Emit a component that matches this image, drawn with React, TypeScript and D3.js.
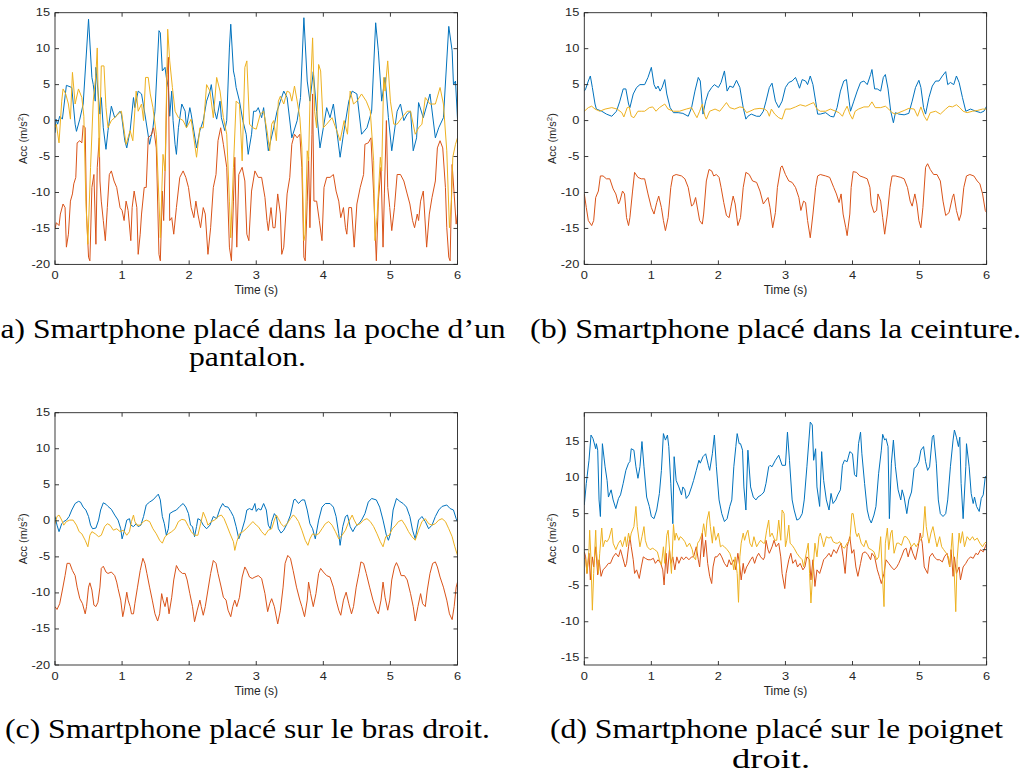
import React from "react";
import * as d3 from "d3";

type Pt = [number, number];

// ---- tick values ----
const timeTicks = [0, 1, 2, 3, 4, 5, 6];
const accTicks = [-20, -15, -10, -5, 0, 5, 10, 15];
const wristAccTicks = [-15, -10, -5, 0, 5, 10, 15];

// ---- (a) pocket ----
const pocketAccX: Pt[] = [[0,-1.7],[0.015,0.2],[0.04,-0.5],[0.07,0.6],[0.11,0.2],[0.17,4.9],[0.25,4.6],[0.30,-0.5],[0.32,-1.5],[0.37,0.2],[0.42,2.3],[0.50,14.1],[0.55,6.0],[0.57,5.0],[0.60,2.7],[0.61,7.4],[0.67,0.9],[0.69,3.2],[0.72,-1.0],[0.76,-4.0],[0.79,-1.4],[0.84,2.0],[0.89,0.4],[0.97,1.3],[0.99,0.9],[1.04,-2.8],[1.07,-3.8],[1.12,-1.4],[1.17,3.2],[1.19,1.8],[1.24,4.1],[1.29,3.7],[1.34,0.9],[1.41,-3.3],[1.46,-1.0],[1.49,1.3],[1.55,12.5],[1.57,12.2],[1.60,6.9],[1.64,7.4],[1.66,6.0],[1.69,4.6],[1.71,0.6],[1.74,4.1],[1.76,0],[1.79,-3.3],[1.81,-4.7],[1.84,-1.0],[1.89,2.3],[1.94,1.3],[1.96,-1.0],[2.01,1.8],[2.03,0.9],[2.11,-3.8],[2.16,-1.4],[2.21,0],[2.26,2.7],[2.31,4.1],[2.33,5.0],[2.38,1.3],[2.41,0.2],[2.46,2.7],[2.48,0.4],[2.53,-1.4],[2.56,0],[2.60,10.1],[2.62,13.4],[2.66,6.9],[2.68,6.0],[2.70,4.6],[2.75,2.7],[2.80,0],[2.85,-1.9],[2.88,-4.7],[2.93,-1.9],[2.96,1.3],[3.0,1.3],[3.03,1.8],[3.08,0.4],[3.11,1.8],[3.18,-4.2],[3.26,-1.0],[3.31,1.3],[3.36,2.7],[3.41,4.1],[3.46,3.2],[3.53,-2.4],[3.61,0],[3.66,3.2],[3.71,14.3],[3.76,5.5],[3.80,2.7],[3.85,6.8],[3.90,1.3],[3.95,-3.8],[4.0,-1.0],[4.05,1.8],[4.10,0.4],[4.15,2.3],[4.25,-5.1],[4.30,-1.9],[4.38,2.7],[4.43,4.1],[4.50,3.7],[4.57,-1.9],[4.65,-1.0],[4.72,1.3],[4.78,13.6],[4.82,9.7],[4.87,2.7],[4.92,6.0],[4.97,0.4],[5.02,-4.2],[5.10,1.3],[5.15,2.3],[5.20,0],[5.25,0.9],[5.30,1.3],[5.34,-4.2],[5.39,-2.4],[5.42,2.5],[5.49,0.4],[5.59,3.7],[5.67,-2.4],[5.72,-1.0],[5.79,0.4],[5.87,13.1],[5.92,9.7],[5.94,5.0],[5.97,5.5],[6.0,0.2]];
const pocketAccY: Pt[] = [[0,-15.1],[0.02,-14.2],[0.06,-14.6],[0.08,-13.0],[0.12,-11.6],[0.15,-12.1],[0.17,-17.6],[0.20,-15.8],[0.23,-11.2],[0.26,-10.2],[0.28,-8.8],[0.31,-7.9],[0.33,-3.1],[0.37,-2.8],[0.40,-3.1],[0.42,-0.7],[0.45,-1.0],[0.47,-13.0],[0.50,-19.0],[0.52,-19.5],[0.55,-9.3],[0.58,-7.5],[0.61,-17.2],[0.63,-6.5],[0.66,-2.4],[0.67,-8.4],[0.69,-11.2],[0.72,-13.9],[0.75,-16.7],[0.78,-12.1],[0.81,-7.5],[0.84,-7.0],[0.88,-8.4],[0.92,-9.3],[0.97,-12.1],[1.00,-12.5],[1.03,-13.9],[1.06,-11.2],[1.09,-12.5],[1.13,-16.7],[1.15,-12.1],[1.18,-9.8],[1.22,-12.1],[1.24,-18.6],[1.27,-15.8],[1.29,-13.0],[1.33,-9.3],[1.36,-9.3],[1.39,-2.4],[1.44,-1.9],[1.47,-1.0],[1.51,-3.8],[1.55,-18.6],[1.57,-19.5],[1.60,-9.8],[1.62,-13.9],[1.65,-3.8],[1.67,6.4],[1.69,8.8],[1.71,-13.9],[1.74,-13.5],[1.77,-15.8],[1.81,-12.1],[1.86,-7.9],[1.91,-7.0],[1.95,-7.9],[1.99,-9.3],[2.03,-12.1],[2.07,-13.5],[2.10,-11.2],[2.13,-13.0],[2.17,-14.9],[2.21,-12.1],[2.24,-13.0],[2.28,-18.6],[2.32,-14.9],[2.36,-9.3],[2.40,-7.5],[2.43,-2.8],[2.47,-1.0],[2.51,-3.3],[2.56,-6.5],[2.60,-17.6],[2.63,-19.5],[2.66,-11.2],[2.68,-5.1],[2.71,-17.6],[2.74,-7.5],[2.79,-6.5],[2.83,-8.4],[2.86,-15.8],[2.89,-16.7],[2.93,-9.8],[2.98,-7.0],[3.03,-7.9],[3.08,-7.9],[3.13,-10.7],[3.16,-13.9],[3.18,-15.3],[3.22,-12.1],[3.25,-14.9],[3.28,-14.9],[3.32,-10.2],[3.36,-13.0],[3.38,-18.6],[3.41,-17.6],[3.46,-10.2],[3.50,-7.9],[3.53,-3.3],[3.57,-1.9],[3.61,-2.4],[3.65,-1.9],[3.68,-6.5],[3.71,-19.0],[3.73,-19.5],[3.76,-11.2],[3.78,-5.1],[3.80,-14.9],[3.83,-1.9],[3.84,3.7],[3.86,-11.2],[3.90,-11.2],[3.94,-13.9],[3.98,-16.7],[4.01,-9.3],[4.05,-7.9],[4.10,-7.9],[4.15,-7.5],[4.19,-9.8],[4.23,-11.2],[4.26,-13.5],[4.30,-12.1],[4.33,-14.9],[4.35,-15.8],[4.38,-12.1],[4.42,-12.1],[4.46,-17.6],[4.50,-11.6],[4.55,-9.3],[4.60,-7.5],[4.62,-3.3],[4.67,-3.1],[4.71,-2.4],[4.75,-10.2],[4.79,-19.5],[4.82,-11.2],[4.86,-6.5],[4.89,-17.6],[4.91,-10.2],[4.94,0],[4.96,-9.3],[4.99,-12.1],[5.02,-15.3],[5.06,-12.1],[5.10,-7.5],[5.15,-7.5],[5.20,-8.4],[5.25,-10.2],[5.29,-11.6],[5.33,-13.9],[5.36,-14.9],[5.40,-13.0],[5.42,-13.9],[5.45,-11.2],[5.49,-9.8],[5.54,-17.6],[5.58,-13.0],[5.62,-10.7],[5.67,-8.4],[5.70,-3.8],[5.74,-2.8],[5.78,-3.8],[5.82,-9.3],[5.84,-14.9],[5.87,-19.0],[5.89,-19.5],[5.92,-6.1],[5.95,-10.2],[5.98,-14.4],[6.0,-13.0]];
const pocketAccZ: Pt[] = [[0,-1.0],[0.02,-0.5],[0.06,-3.1],[0.10,2.7],[0.12,4.4],[0.16,3.7],[0.20,2.3],[0.23,0.2],[0.26,6.7],[0.30,2.3],[0.35,4.4],[0.40,3.2],[0.43,0.6],[0.46,-11.2],[0.49,-17.2],[0.53,-6.5],[0.57,2.7],[0.61,6.4],[0.63,10.1],[0.66,-5.1],[0.69,7.6],[0.73,7.6],[0.76,1.8],[0.79,-1.0],[0.84,0],[0.89,0.4],[0.94,0.9],[0.99,1.3],[1.06,-3.3],[1.12,-1.4],[1.16,-2.8],[1.21,4.1],[1.24,1.3],[1.29,2.3],[1.32,0],[1.35,6.0],[1.39,6.0],[1.42,3.7],[1.46,1.8],[1.51,-1.9],[1.55,-11.2],[1.57,-16.3],[1.61,-4.7],[1.64,-7.0],[1.68,12.7],[1.71,8.3],[1.75,4.6],[1.79,1.3],[1.84,0.4],[1.91,0],[1.96,-1.0],[2.03,0.2],[2.11,-5.1],[2.16,-1.0],[2.21,-1.0],[2.26,5.0],[2.31,4.1],[2.36,0.4],[2.41,6.0],[2.46,4.1],[2.51,0.4],[2.56,-1.9],[2.60,-11.2],[2.62,-16.3],[2.66,-6.5],[2.70,2.7],[2.75,2.3],[2.79,-5.6],[2.83,7.4],[2.86,8.3],[2.90,-0.5],[2.95,-1.0],[3.0,-1.2],[3.06,0.9],[3.11,1.3],[3.16,-1.4],[3.20,-4.2],[3.23,-0.5],[3.26,0],[3.30,-2.8],[3.33,2.7],[3.36,3.4],[3.41,2.3],[3.46,4.1],[3.50,3.9],[3.53,2.7],[3.57,4.8],[3.61,2.7],[3.65,0.4],[3.68,-3.8],[3.71,-16.7],[3.73,-15.8],[3.76,-4.2],[3.78,-5.6],[3.80,2.3],[3.84,11.5],[3.87,1.3],[3.90,-1.0],[3.93,7.8],[3.96,6.9],[4.0,-1.0],[4.05,-0.5],[4.13,0.4],[4.20,-1.4],[4.25,-2.8],[4.31,0],[4.36,-1.9],[4.40,4.1],[4.45,2.3],[4.50,2.7],[4.57,3.7],[4.64,2.7],[4.70,1.3],[4.75,-5.6],[4.77,-16.7],[4.80,-13.5],[4.85,-5.1],[4.87,-7.0],[4.90,6.0],[4.92,4.1],[4.96,8.3],[5.0,2.7],[5.05,-0.5],[5.10,-0.5],[5.17,0.4],[5.25,1.3],[5.30,1.3],[5.37,-1.9],[5.42,-1.0],[5.47,-0.5],[5.52,3.2],[5.59,2.3],[5.67,2.3],[5.74,4.6],[5.79,2.3],[5.84,-4.2],[5.88,-14.9],[5.91,-11.2],[5.93,-5.1],[5.97,-3.3],[6.0,-2.4]];

// ---- (b) belt ----
const beltAccX: Pt[] = [[0,4.1],[0.02,4.4],[0.06,5.5],[0.09,6.2],[0.12,4.6],[0.16,2.3],[0.18,1.6],[0.26,1.3],[0.33,0.9],[0.41,0.6],[0.48,1.3],[0.53,2.7],[0.58,4.4],[0.62,4.4],[0.66,2.3],[0.68,1.8],[0.73,3.7],[0.78,4.6],[0.83,5.0],[0.90,5.0],[0.95,6.0],[1.0,7.4],[1.04,5.0],[1.07,4.4],[1.10,4.8],[1.13,4.1],[1.16,4.6],[1.20,5.7],[1.23,3.7],[1.28,1.8],[1.33,1.1],[1.40,1.1],[1.47,1.0],[1.55,0.6],[1.60,1.8],[1.65,4.1],[1.70,6.0],[1.73,5.5],[1.77,0.9],[1.81,2.7],[1.85,3.9],[1.90,4.6],[1.94,5.0],[2.0,4.6],[2.04,5.3],[2.09,6.9],[2.13,4.1],[2.17,4.8],[2.22,4.6],[2.27,5.6],[2.32,4.6],[2.37,1.8],[2.41,0.2],[2.44,0.6],[2.49,0.9],[2.57,0.6],[2.62,0.6],[2.67,1.3],[2.71,2.7],[2.76,4.6],[2.80,5.2],[2.85,2.7],[2.90,1.8],[2.95,2.7],[3.0,4.6],[3.05,5.3],[3.10,5.5],[3.15,6.0],[3.18,5.3],[3.21,4.5],[3.25,5.7],[3.30,5.5],[3.33,5.0],[3.37,6.2],[3.41,5.0],[3.45,2.7],[3.48,0.9],[3.52,0.9],[3.60,1.1],[3.67,0.6],[3.72,0.5],[3.77,1.8],[3.82,4.1],[3.87,5.5],[3.91,5.7],[3.95,2.7],[3.97,1.3],[4.02,2.7],[4.07,4.1],[4.12,5.3],[4.17,5.5],[4.22,5.0],[4.27,6.4],[4.29,7.1],[4.33,4.4],[4.37,4.4],[4.42,4.1],[4.46,6.0],[4.49,6.4],[4.53,4.4],[4.57,1.3],[4.61,-0.3],[4.64,1.1],[4.69,0.9],[4.77,0.8],[4.84,1.0],[4.89,2.7],[4.94,4.6],[4.99,5.6],[5.02,4.6],[5.06,1.8],[5.09,0.9],[5.14,3.2],[5.19,4.8],[5.24,5.5],[5.29,5.5],[5.34,6.2],[5.39,6.8],[5.42,5.0],[5.46,5.3],[5.51,5.0],[5.55,6.2],[5.59,5.3],[5.64,3.2],[5.69,1.3],[5.76,1.6],[5.84,1.3],[5.91,1.1],[5.96,1.3],[6.0,2.0]];
const beltAccY: Pt[] = [[0,-10.2],[0.03,-12.1],[0.06,-13.9],[0.11,-14.6],[0.14,-13.9],[0.17,-10.7],[0.21,-9.8],[0.24,-7.7],[0.28,-7.7],[0.33,-8.1],[0.38,-8.1],[0.43,-9.5],[0.47,-10.2],[0.51,-11.6],[0.53,-11.2],[0.57,-9.8],[0.60,-10.2],[0.63,-13.5],[0.66,-14.6],[0.68,-13.5],[0.72,-9.8],[0.75,-7.2],[0.80,-7.9],[0.85,-8.1],[0.90,-8.1],[0.95,-10.2],[1.0,-12.1],[1.04,-13.0],[1.08,-11.4],[1.11,-10.5],[1.15,-12.1],[1.18,-13.9],[1.21,-15.3],[1.25,-13.5],[1.29,-9.3],[1.32,-7.7],[1.37,-7.5],[1.45,-7.7],[1.50,-8.1],[1.55,-9.3],[1.60,-11.9],[1.63,-11.6],[1.66,-10.7],[1.69,-12.3],[1.72,-13.9],[1.76,-14.4],[1.78,-13.0],[1.82,-8.4],[1.86,-6.8],[1.90,-7.0],[1.93,-7.7],[1.97,-7.5],[2.01,-7.9],[2.04,-9.3],[2.08,-11.4],[2.12,-13.2],[2.16,-13.5],[2.19,-11.9],[2.22,-10.5],[2.25,-11.6],[2.29,-14.6],[2.33,-13.5],[2.37,-9.3],[2.41,-7.2],[2.46,-7.5],[2.51,-8.4],[2.57,-8.6],[2.62,-9.8],[2.67,-11.6],[2.70,-11.2],[2.74,-10.7],[2.77,-12.1],[2.81,-14.9],[2.85,-12.8],[2.88,-9.3],[2.93,-6.5],[2.95,-6.3],[3.0,-7.5],[3.05,-8.4],[3.10,-8.6],[3.15,-9.3],[3.20,-10.7],[3.23,-12.5],[3.27,-11.2],[3.30,-11.4],[3.33,-13.9],[3.37,-16.3],[3.41,-13.0],[3.45,-9.3],[3.48,-7.7],[3.52,-7.5],[3.60,-7.7],[3.66,-7.9],[3.72,-9.3],[3.76,-10.2],[3.80,-11.4],[3.83,-10.2],[3.86,-13.0],[3.90,-14.9],[3.92,-16.0],[3.96,-13.0],[3.98,-9.3],[4.01,-7.1],[4.06,-7.2],[4.11,-7.7],[4.17,-7.9],[4.22,-8.1],[4.26,-9.3],[4.28,-11.6],[4.32,-12.8],[4.36,-12.5],[4.38,-10.2],[4.42,-11.2],[4.45,-13.5],[4.48,-15.8],[4.52,-13.0],[4.56,-9.3],[4.59,-7.7],[4.64,-7.7],[4.72,-7.9],[4.77,-8.1],[4.82,-9.3],[4.86,-11.2],[4.89,-11.9],[4.93,-10.2],[4.96,-11.6],[4.99,-13.9],[5.02,-14.9],[5.05,-12.1],[5.09,-6.5],[5.12,-6.0],[5.16,-6.8],[5.21,-7.5],[5.26,-7.5],[5.31,-8.4],[5.35,-11.2],[5.39,-13.2],[5.44,-12.8],[5.49,-10.7],[5.51,-10.2],[5.55,-12.5],[5.59,-13.9],[5.62,-13.0],[5.66,-9.3],[5.70,-7.7],[5.75,-7.5],[5.81,-7.7],[5.86,-8.4],[5.90,-8.8],[5.94,-10.2],[5.98,-12.5],[6.0,-12.8]];
const beltAccZ: Pt[] = [[0,1.3],[0.06,1.8],[0.11,2.0],[0.16,1.6],[0.23,1.3],[0.31,1.6],[0.41,1.8],[0.49,1.6],[0.56,1.1],[0.59,0.5],[0.64,1.8],[0.67,1.9],[0.70,0.6],[0.74,0.4],[0.80,1.3],[0.85,1.3],[0.90,1.3],[0.97,1.8],[1.02,1.9],[1.07,1.3],[1.12,1.8],[1.20,2.3],[1.25,1.6],[1.33,1.3],[1.42,1.3],[1.52,1.6],[1.60,1.8],[1.65,0.9],[1.68,0.4],[1.72,1.3],[1.76,2.3],[1.80,0.6],[1.82,0.2],[1.87,1.3],[1.95,1.6],[2.02,1.3],[2.07,1.9],[2.12,2.5],[2.17,1.8],[2.24,1.6],[2.32,1.9],[2.37,1.8],[2.42,1.1],[2.47,1.3],[2.54,1.6],[2.62,1.7],[2.69,1.6],[2.73,1.3],[2.76,0.6],[2.79,1.6],[2.84,0.9],[2.90,0.4],[2.95,0.2],[3.0,1.6],[3.07,1.6],[3.15,1.9],[3.22,2.2],[3.30,2.0],[3.37,2.3],[3.42,2.5],[3.47,1.6],[3.52,1.3],[3.60,1.3],[3.67,1.6],[3.75,1.3],[3.80,1.1],[3.85,0.6],[3.88,1.3],[3.92,2.0],[3.96,0.9],[4.0,0.2],[4.04,1.3],[4.09,1.6],[4.17,1.9],[4.24,1.9],[4.29,2.6],[4.34,1.8],[4.42,1.8],[4.49,2.0],[4.54,1.6],[4.59,1.1],[4.64,0.9],[4.69,1.1],[4.77,1.4],[4.84,1.7],[4.92,1.6],[4.97,0.6],[5.02,1.9],[5.07,0.6],[5.11,0],[5.16,1.1],[5.24,1.3],[5.31,0.9],[5.39,1.6],[5.44,2.0],[5.49,1.9],[5.55,2.2],[5.60,1.8],[5.65,1.3],[5.71,1.1],[5.79,1.3],[5.86,1.4],[5.94,1.6],[6.0,1.6]];

// ---- (c) arm ----
const armAccX: Pt[] = [[0,0.6],[0.03,-0.6],[0.06,-1.5],[0.10,-0.4],[0.13,-0.1],[0.17,0.1],[0.21,0.6],[0.25,1.5],[0.30,2.4],[0.35,2.7],[0.38,2.6],[0.42,1.9],[0.46,1.5],[0.50,0.6],[0.53,-0.6],[0.56,-1.1],[0.61,-1.0],[0.65,0.1],[0.68,1.5],[0.72,2.5],[0.76,2.3],[0.79,2.0],[0.84,1.6],[0.89,0.8],[0.94,0.1],[0.98,-1.1],[1.0,-2.5],[1.03,-1.5],[1.07,0.1],[1.11,0.3],[1.13,-0.6],[1.17,-0.8],[1.21,-0.4],[1.24,-0.8],[1.28,-0.6],[1.32,0.6],[1.36,2.2],[1.41,2.6],[1.46,2.9],[1.50,3.3],[1.54,3.7],[1.57,2.9],[1.60,0.6],[1.63,-0.4],[1.66,-2.0],[1.69,-1.1],[1.71,1.0],[1.76,1.3],[1.81,1.5],[1.86,2.0],[1.91,2.4],[1.95,1.9],[1.99,1.0],[2.02,-0.6],[2.05,-0.8],[2.08,-2.2],[2.11,-0.8],[2.13,0.3],[2.17,0.1],[2.21,-0.6],[2.26,-1.1],[2.31,-0.6],[2.36,0.6],[2.41,0.3],[2.46,1.7],[2.50,2.4],[2.53,2.0],[2.58,1.9],[2.62,1.3],[2.66,0.6],[2.70,-0.8],[2.74,-2.5],[2.78,-1.5],[2.83,0.1],[2.86,1.5],[2.90,1.7],[2.94,1.5],[2.98,2.4],[3.0,1.3],[3.03,1.7],[3.07,1.5],[3.11,2.4],[3.15,1.5],[3.18,-0.6],[3.21,-1.1],[3.23,-0.1],[3.27,1.0],[3.30,0.6],[3.33,-1.1],[3.37,-1.7],[3.41,-1.3],[3.46,-0.4],[3.51,0.8],[3.56,2.9],[3.58,3.0],[3.63,2.4],[3.68,2.9],[3.72,2.9],[3.76,1.5],[3.80,-0.4],[3.84,-1.1],[3.88,-2.5],[3.93,0.1],[3.98,1.9],[4.03,2.4],[4.10,2.4],[4.15,1.9],[4.19,0.6],[4.23,-1.8],[4.25,-3.4],[4.29,-0.8],[4.33,0.6],[4.36,0.8],[4.40,-0.8],[4.44,-1.5],[4.48,-0.8],[4.53,-0.4],[4.57,0.1],[4.62,1.0],[4.67,2.6],[4.72,3.1],[4.79,2.9],[4.84,1.9],[4.89,0.1],[4.94,-2.0],[4.97,-2.7],[5.0,-1.8],[5.04,1.5],[5.09,3.1],[5.14,2.7],[5.19,2.4],[5.24,1.9],[5.29,0.6],[5.33,-1.3],[5.37,-2.5],[5.42,0.1],[5.47,0.6],[5.52,-0.1],[5.57,-1.1],[5.62,-0.6],[5.67,0.6],[5.72,1.5],[5.77,2.0],[5.84,2.2],[5.89,1.7],[5.94,1.5],[5.98,0.3],[6.0,-0.1]];
const armAccY: Pt[] = [[0,-11.9],[0.03,-12.3],[0.07,-11.5],[0.11,-9.6],[0.15,-7.6],[0.18,-5.9],[0.22,-5.9],[0.26,-6.9],[0.30,-7.6],[0.33,-9.2],[0.37,-10.8],[0.41,-11.5],[0.45,-12.9],[0.47,-11.9],[0.50,-9.2],[0.52,-8.6],[0.55,-9.6],[0.58,-11.7],[0.61,-11.9],[0.64,-11.3],[0.67,-9.2],[0.69,-6.6],[0.72,-6.3],[0.76,-7.1],[0.79,-7.3],[0.84,-7.1],[0.89,-7.6],[0.92,-8.5],[0.94,-9.4],[0.98,-11.0],[1.01,-13.3],[1.03,-12.4],[1.07,-9.9],[1.09,-11.0],[1.12,-11.9],[1.14,-12.9],[1.17,-12.9],[1.19,-11.5],[1.23,-9.2],[1.27,-6.9],[1.31,-5.2],[1.34,-5.9],[1.37,-7.3],[1.41,-9.2],[1.45,-11.0],[1.49,-12.9],[1.53,-13.9],[1.56,-12.9],[1.59,-10.1],[1.61,-11.0],[1.64,-11.9],[1.67,-10.6],[1.70,-12.9],[1.74,-10.6],[1.77,-8.2],[1.81,-6.2],[1.85,-6.9],[1.90,-7.3],[1.94,-7.3],[1.97,-8.2],[2.01,-10.1],[2.05,-11.9],[2.08,-14.0],[2.12,-12.4],[2.16,-11.0],[2.18,-11.9],[2.21,-13.1],[2.24,-11.9],[2.28,-9.6],[2.32,-7.3],[2.36,-5.5],[2.40,-5.9],[2.43,-7.3],[2.47,-8.9],[2.51,-10.6],[2.55,-11.0],[2.58,-12.4],[2.62,-13.3],[2.65,-11.9],[2.68,-11.0],[2.71,-11.9],[2.75,-10.6],[2.79,-7.8],[2.83,-6.4],[2.86,-6.9],[2.90,-7.8],[2.94,-8.0],[2.98,-7.8],[3.03,-7.6],[3.08,-8.0],[3.13,-10.1],[3.17,-12.6],[3.20,-11.5],[3.23,-10.8],[3.27,-11.9],[3.32,-14.3],[3.36,-12.4],[3.40,-9.2],[3.43,-5.9],[3.47,-4.8],[3.51,-5.2],[3.55,-6.9],[3.60,-9.2],[3.65,-11.0],[3.68,-11.9],[3.72,-13.3],[3.76,-11.0],[3.78,-8.5],[3.81,-10.1],[3.85,-11.9],[3.89,-10.1],[3.93,-7.3],[3.96,-6.6],[4.0,-7.1],[4.05,-7.6],[4.10,-7.8],[4.15,-9.2],[4.19,-11.0],[4.23,-12.4],[4.26,-13.1],[4.30,-11.0],[4.34,-9.9],[4.38,-11.5],[4.42,-12.9],[4.45,-11.9],[4.49,-9.2],[4.53,-7.3],[4.56,-5.7],[4.60,-5.9],[4.64,-7.3],[4.69,-9.2],[4.74,-11.0],[4.79,-12.4],[4.82,-12.9],[4.86,-11.0],[4.89,-8.5],[4.92,-10.6],[4.96,-12.4],[4.99,-11.0],[5.02,-8.2],[5.06,-6.4],[5.09,-5.8],[5.12,-6.4],[5.16,-7.6],[5.21,-7.6],[5.25,-8.2],[5.30,-10.1],[5.34,-11.9],[5.37,-13.9],[5.41,-11.9],[5.45,-10.1],[5.48,-11.5],[5.52,-11.9],[5.55,-9.6],[5.59,-7.3],[5.63,-5.9],[5.67,-5.7],[5.70,-6.4],[5.74,-7.8],[5.79,-9.2],[5.84,-11.0],[5.88,-12.9],[5.92,-13.7],[5.95,-11.9],[5.98,-9.2],[6.0,-8.5]];
const armAccZ: Pt[] = [[0,-0.4],[0.03,0.6],[0.06,0.8],[0.10,0.1],[0.13,-0.6],[0.17,-0.1],[0.22,0.1],[0.27,0.1],[0.32,-0.6],[0.36,-1.5],[0.40,-1.8],[0.45,-2.7],[0.49,-3.6],[0.52,-2.0],[0.55,-1.5],[0.60,-1.8],[0.65,-2.2],[0.69,-2.0],[0.74,-0.8],[0.78,-0.4],[0.82,-0.6],[0.87,-1.3],[0.92,-1.1],[0.97,-1.5],[1.02,-1.3],[1.07,-2.0],[1.11,-1.5],[1.14,-0.1],[1.17,0.8],[1.19,-0.1],[1.22,-0.6],[1.27,-0.6],[1.32,-0.1],[1.36,0.1],[1.41,-0.1],[1.46,-1.1],[1.51,-1.8],[1.56,-2.7],[1.60,-3.1],[1.64,-2.2],[1.69,-1.8],[1.74,-1.5],[1.79,-1.1],[1.84,-0.1],[1.89,0.2],[1.94,0.1],[1.99,-0.8],[2.03,-1.5],[2.08,-2.0],[2.13,-2.0],[2.17,-0.4],[2.21,1.2],[2.25,0.3],[2.28,-0.6],[2.33,-0.1],[2.38,0.1],[2.43,0.6],[2.48,0.8],[2.52,0.3],[2.56,-0.6],[2.61,-1.8],[2.66,-2.9],[2.68,-4.1],[2.71,-2.9],[2.75,-1.8],[2.80,-1.5],[2.85,-1.1],[2.90,-0.6],[2.95,-0.1],[3.0,-0.6],[3.03,-0.8],[3.08,-1.5],[3.13,-2.0],[3.18,-1.3],[3.23,-1.1],[3.27,0.1],[3.30,0.8],[3.33,0.3],[3.37,-0.4],[3.41,-0.8],[3.46,-0.4],[3.51,0.3],[3.55,0.8],[3.58,0.6],[3.63,-0.1],[3.68,-1.3],[3.73,-2.7],[3.77,-3.4],[3.80,-2.5],[3.84,-1.8],[3.88,-2.0],[3.93,-1.8],[3.98,-1.1],[4.03,-0.4],[4.08,-0.1],[4.13,-0.6],[4.18,-1.5],[4.23,-2.5],[4.28,-2.0],[4.33,-1.3],[4.38,-0.1],[4.43,0.8],[4.46,0.1],[4.50,-0.6],[4.55,-0.4],[4.60,0.1],[4.65,0.3],[4.70,-0.1],[4.75,-0.8],[4.80,-1.8],[4.85,-2.9],[4.89,-3.6],[4.93,-2.2],[4.98,-2.0],[5.03,-1.1],[5.08,-0.6],[5.12,-0.1],[5.17,0.1],[5.22,-0.6],[5.27,-1.5],[5.32,-2.2],[5.37,-2.7],[5.42,-1.3],[5.47,-0.1],[5.52,0.3],[5.57,-0.4],[5.62,-0.6],[5.67,-0.4],[5.72,0.1],[5.77,0.3],[5.82,-0.1],[5.87,-1.1],[5.92,-2.2],[5.96,-3.6],[6.0,-4.8]];

// ---- (d) wrist ----
const wristAccX: Pt[] = [[0,6.2],[0.03,9.2],[0.07,12.4],[0.10,15.9],[0.13,15.4],[0.17,14.0],[0.18,14.7],[0.20,13.8],[0.22,6.9],[0.24,4.6],[0.27,14.7],[0.31,11.5],[0.34,9.6],[0.36,7.3],[0.40,8.3],[0.43,6.9],[0.47,5.7],[0.51,7.1],[0.54,7.6],[0.58,9.2],[0.62,11.0],[0.66,12.0],[0.68,12.2],[0.70,14.0],[0.74,13.8],[0.77,11.5],[0.80,9.9],[0.83,11.5],[0.86,15.0],[0.89,11.5],[0.93,7.3],[0.97,6.0],[1.0,4.6],[1.04,4.3],[1.08,5.5],[1.12,7.8],[1.15,11.0],[1.18,16.1],[1.21,15.2],[1.24,15.9],[1.26,14.3],[1.29,9.2],[1.32,3.6],[1.34,12.9],[1.37,9.6],[1.41,8.7],[1.45,7.6],[1.47,8.7],[1.50,8.3],[1.52,7.1],[1.56,7.6],[1.60,8.7],[1.63,9.6],[1.67,11.0],[1.71,12.4],[1.73,12.0],[1.77,12.9],[1.81,13.3],[1.85,11.7],[1.87,11.0],[1.91,13.3],[1.94,15.9],[1.97,11.5],[2.01,6.9],[2.05,5.0],[2.09,3.9],[2.13,4.3],[2.17,6.0],[2.20,6.9],[2.23,11.5],[2.26,14.3],[2.28,16.1],[2.31,14.7],[2.33,14.7],[2.36,13.8],[2.38,8.7],[2.41,5.5],[2.44,13.8],[2.48,8.7],[2.52,7.3],[2.56,6.9],[2.59,7.3],[2.64,7.6],[2.68,8.0],[2.71,9.2],[2.75,11.5],[2.77,11.7],[2.80,11.5],[2.85,12.4],[2.90,13.1],[2.95,11.7],[3.0,11.7],[3.03,16.3],[3.06,12.4],[3.10,6.9],[3.13,5.5],[3.17,4.1],[3.21,4.3],[3.25,5.0],[3.28,6.9],[3.32,11.5],[3.35,15.2],[3.37,17.7],[3.40,17.3],[3.42,12.4],[3.45,14.0],[3.47,8.7],[3.51,6.0],[3.54,13.6],[3.57,9.6],[3.61,6.9],[3.65,5.5],[3.68,7.8],[3.71,6.4],[3.75,6.9],[3.78,7.6],[3.82,8.3],[3.85,11.7],[3.88,12.4],[3.92,12.2],[3.96,13.6],[4.0,13.3],[4.03,10.4],[4.06,10.1],[4.09,14.7],[4.12,16.3],[4.14,13.3],[4.18,9.2],[4.22,5.5],[4.25,4.3],[4.28,3.7],[4.32,4.8],[4.35,6.0],[4.39,10.6],[4.43,13.8],[4.45,16.0],[4.48,15.2],[4.50,15.4],[4.53,14.3],[4.55,4.3],[4.58,12.0],[4.61,15.2],[4.64,11.5],[4.68,8.3],[4.72,6.9],[4.74,8.3],[4.77,7.3],[4.81,5.0],[4.84,6.9],[4.88,8.0],[4.92,11.3],[4.95,11.5],[4.99,12.2],[5.02,13.8],[5.06,14.3],[5.09,12.2],[5.12,11.0],[5.15,11.5],[5.19,15.6],[5.21,15.9],[5.25,12.0],[5.28,6.9],[5.31,5.0],[5.35,4.6],[5.39,5.0],[5.42,6.9],[5.46,11.5],[5.50,15.2],[5.52,16.6],[5.55,15.6],[5.58,14.3],[5.60,15.6],[5.62,9.2],[5.65,4.3],[5.69,11.5],[5.70,14.7],[5.74,11.5],[5.77,7.8],[5.80,6.4],[5.82,7.3],[5.85,6.0],[5.89,5.3],[5.92,7.1],[5.95,7.6],[5.98,10.1],[6.0,10.3]];
const wristAccY: Pt[] = [[0,-0.3],[0.02,-1.0],[0.04,-3.3],[0.07,-0.5],[0.09,-4.2],[0.12,-1.0],[0.14,-2.4],[0.17,0.4],[0.20,-3.5],[0.22,-1.4],[0.25,-3.7],[0.28,-2.8],[0.32,-2.4],[0.36,-1.9],[0.39,-1.9],[0.43,-1.0],[0.47,-0.5],[0.51,-1.0],[0.54,0],[0.57,-1.0],[0.61,-2.4],[0.63,-1.9],[0.66,0.4],[0.68,1.8],[0.70,0.4],[0.73,-1.4],[0.75,-3.3],[0.78,-2.8],[0.82,-4.0],[0.85,-2.4],[0.88,-1.0],[0.91,-1.2],[0.95,-1.4],[0.99,-1.4],[1.03,-1.2],[1.06,-1.9],[1.10,-1.4],[1.14,-1.9],[1.17,-2.8],[1.19,-4.9],[1.22,-0.5],[1.24,-3.3],[1.27,0],[1.29,-1.9],[1.32,-1.0],[1.35,-2.8],[1.38,-1.0],[1.41,-1.9],[1.45,-1.0],[1.48,-1.4],[1.52,-1.0],[1.56,-1.4],[1.60,-1.0],[1.63,-1.0],[1.67,0.4],[1.70,-1.4],[1.72,-2.4],[1.76,2.3],[1.78,-1.0],[1.81,1.3],[1.84,-1.9],[1.87,-3.7],[1.90,-4.7],[1.92,-2.4],[1.95,-1.0],[1.98,-1.0],[2.02,-0.5],[2.05,-1.0],[2.09,-1.9],[2.13,-2.4],[2.16,-1.4],[2.19,-2.1],[2.23,-1.4],[2.26,-2.8],[2.29,-0.5],[2.32,-2.4],[2.34,-4.2],[2.37,-1.9],[2.39,-3.3],[2.42,-2.4],[2.44,-2.1],[2.48,-1.4],[2.51,-1.0],[2.54,-1.9],[2.57,-1.0],[2.60,-0.5],[2.63,-1.0],[2.67,-1.4],[2.69,-1.0],[2.71,1.3],[2.74,0],[2.76,-0.5],[2.80,0.4],[2.83,1.3],[2.86,0.4],[2.90,0.9],[2.93,-1.0],[2.95,-3.3],[2.99,-5.4],[3.01,-3.3],[3.05,-1.4],[3.08,-0.5],[3.11,-1.9],[3.15,-1.4],[3.18,-2.4],[3.22,-1.9],[3.26,-2.8],[3.29,-2.4],[3.32,-1.0],[3.36,-1.4],[3.38,-4.2],[3.41,-1.4],[3.44,-5.1],[3.47,-2.8],[3.51,-3.3],[3.54,-2.4],[3.57,-1.4],[3.61,-1.0],[3.65,-0.5],[3.68,-1.0],[3.72,0],[3.76,-0.5],[3.80,0.4],[3.83,0.9],[3.86,-1.0],[3.89,-3.3],[3.92,0.4],[3.96,1.8],[3.99,-0.5],[4.02,0],[4.05,-2.4],[4.08,-3.7],[4.12,-1.9],[4.15,-0.5],[4.19,-0.3],[4.23,-0.7],[4.27,-1.4],[4.29,-0.5],[4.33,-1.0],[4.37,-2.8],[4.40,-3.7],[4.43,-4.7],[4.47,-3.3],[4.50,-1.4],[4.54,-1.9],[4.58,-2.4],[4.62,-2.8],[4.66,-2.4],[4.69,-1.9],[4.73,-1.0],[4.77,0],[4.80,0.2],[4.83,-1.0],[4.87,0.4],[4.90,-0.5],[4.94,-1.4],[4.98,0.4],[5.01,2.3],[5.04,0.9],[5.07,-2.4],[5.12,-3.3],[5.15,-1.0],[5.19,-0.5],[5.22,-1.0],[5.26,-1.4],[5.30,-1.4],[5.34,-1.7],[5.37,-1.0],[5.41,-0.5],[5.45,-2.4],[5.47,0],[5.50,-3.7],[5.52,-1.0],[5.55,-3.3],[5.59,-2.4],[5.61,-4.2],[5.65,-2.4],[5.69,-1.9],[5.72,-1.4],[5.76,-1.0],[5.80,-1.2],[5.84,-0.5],[5.87,-0.7],[5.91,0],[5.95,-0.3],[5.98,0.4],[6.0,0.9]];
const wristAccZ: Pt[] = [[0,-1.2],[0.02,-1.4],[0.04,-3.3],[0.07,0],[0.08,2.7],[0.10,-1.4],[0.12,-8.4],[0.14,-3.3],[0.17,2.7],[0.18,0],[0.21,-3.3],[0.23,-0.5],[0.26,3.0],[0.28,0.4],[0.31,1.3],[0.34,1.1],[0.37,1.6],[0.41,3.0],[0.43,0.9],[0.47,0],[0.51,0.9],[0.54,1.3],[0.57,0.4],[0.61,1.8],[0.63,0.4],[0.66,2.3],[0.68,1.3],[0.70,2.3],[0.74,3.2],[0.77,6.0],[0.79,3.2],[0.83,0.4],[0.86,1.8],[0.89,3.2],[0.91,1.3],[0.94,0.4],[0.98,0],[1.02,0.2],[1.05,0],[1.09,-0.3],[1.12,-1.4],[1.15,-2.1],[1.18,0.4],[1.20,-1.9],[1.23,2.0],[1.25,2.7],[1.28,-1.0],[1.30,-3.3],[1.33,3.5],[1.35,1.3],[1.37,2.3],[1.41,1.3],[1.43,1.8],[1.46,1.6],[1.50,1.1],[1.53,0.4],[1.57,0.9],[1.61,0],[1.63,-1.0],[1.66,-1.4],[1.69,0.9],[1.72,1.3],[1.76,2.3],[1.78,3.6],[1.81,1.8],[1.83,4.1],[1.86,5.3],[1.88,3.2],[1.91,0.9],[1.93,3.2],[1.96,1.3],[2.0,2.3],[2.03,0.4],[2.06,0.6],[2.09,0.4],[2.13,0],[2.17,-0.5],[2.21,-1.7],[2.23,-2.8],[2.25,-1.0],[2.28,-3.3],[2.30,-7.3],[2.32,-1.0],[2.34,0.9],[2.37,2.3],[2.39,1.3],[2.42,2.3],[2.44,2.7],[2.47,0.9],[2.50,0.4],[2.53,1.8],[2.57,0.4],[2.60,0.9],[2.63,1.3],[2.67,0.9],[2.69,0.9],[2.72,2.7],[2.75,4.1],[2.77,1.8],[2.80,2.3],[2.84,1.3],[2.87,1.3],[2.90,4.1],[2.93,1.3],[2.95,5.5],[2.98,5.0],[3.0,0.4],[3.02,1.3],[3.05,3.4],[3.07,0.9],[3.10,0.6],[3.13,0.2],[3.17,-0.5],[3.21,-1.0],[3.25,-1.4],[3.27,-2.4],[3.31,-0.5],[3.34,0.9],[3.36,-3.3],[3.38,-7.4],[3.41,-2.8],[3.44,0.9],[3.47,-1.0],[3.50,1.8],[3.52,2.3],[3.55,1.3],[3.57,0.4],[3.61,1.8],[3.65,1.6],[3.68,1.8],[3.71,1.1],[3.75,0.9],[3.78,0.9],[3.81,1.1],[3.85,0.4],[3.88,0.2],[3.92,0.9],[3.96,1.3],[3.99,5.0],[4.01,5.0],[4.05,2.3],[4.07,1.8],[4.09,2.3],[4.13,0.9],[4.17,0.4],[4.20,1.3],[4.24,0.2],[4.28,0],[4.32,-0.3],[4.36,-1.4],[4.39,-1.0],[4.42,1.8],[4.44,-2.4],[4.47,-7.9],[4.49,0.9],[4.52,3.0],[4.54,0],[4.57,2.3],[4.59,2.7],[4.62,-0.5],[4.66,0.9],[4.69,0.9],[4.73,0.6],[4.77,1.8],[4.80,1.8],[4.84,1.3],[4.88,0.4],[4.92,0.9],[4.95,0.4],[4.98,0.9],[5.01,1.3],[5.05,1.8],[5.08,6.0],[5.10,3.2],[5.14,0.9],[5.17,2.3],[5.20,3.2],[5.24,1.3],[5.26,0.4],[5.30,1.8],[5.33,0.4],[5.36,0],[5.40,-0.5],[5.43,-1.0],[5.45,-2.4],[5.49,2.3],[5.51,-1.4],[5.54,-8.6],[5.56,-1.4],[5.59,2.3],[5.61,0.9],[5.64,2.5],[5.67,0.4],[5.71,1.8],[5.75,1.3],[5.79,1.8],[5.82,1.3],[5.86,1.6],[5.90,0.9],[5.94,0.4],[5.97,0.9],[6.0,1.1]];

const COLOR_X = "#0072BD";
const COLOR_Y = "#D95319";
const COLOR_Z = "#EDB120";
const AXIS = "#262626";
const SANS = "Liberation Sans";
const SERIF = "Liberation Serif";

type PanelSpec = {
  id: string;
  left: number; right: number; top: number; bottom: number;
  yDomain: [number, number];
  yTicks: number[];
  series: { data: Pt[]; color: string }[];
};

const panels: PanelSpec[] = [
  { id: "a", left: 55, right: 457.5, top: 12.7, bottom: 264.4, yDomain: [-20, 15], yTicks: accTicks,
    series: [{ data: pocketAccX, color: COLOR_X }, { data: pocketAccY, color: COLOR_Y }, { data: pocketAccZ, color: COLOR_Z }] },
  { id: "b", left: 584.3, right: 986.6, top: 12.7, bottom: 264.4, yDomain: [-20, 15], yTicks: accTicks,
    series: [{ data: beltAccX, color: COLOR_X }, { data: beltAccY, color: COLOR_Y }, { data: beltAccZ, color: COLOR_Z }] },
  { id: "c", left: 55, right: 457.5, top: 412.7, bottom: 665, yDomain: [-20, 15], yTicks: accTicks,
    series: [{ data: armAccX, color: COLOR_X }, { data: armAccY, color: COLOR_Y }, { data: armAccZ, color: COLOR_Z }] },
  { id: "d", left: 584.3, right: 986.6, top: 412.7, bottom: 665, yDomain: [-16, 19], yTicks: wristAccTicks,
    series: [{ data: wristAccX, color: COLOR_X }, { data: wristAccY, color: COLOR_Y }, { data: wristAccZ, color: COLOR_Z }] },
];

const captions = [
  { text: "a) Smartphone placé dans la poche d’un", x: 0.5, y: 338, len: 505 },
  { text: "pantalon.", x: 189, y: 366, len: 117 },
  { text: "(b) Smartphone placé dans la ceinture.", x: 530, y: 338, len: 491 },
  { text: "(c) Smartphone placé sur le bras droit.", x: 5, y: 738, len: 485 },
  { text: "(d) Smartphone placé sur le poignet", x: 550, y: 738, len: 453 },
  { text: "droit.", x: 732, y: 768, len: 78 },
];

const TICK = 4;
const SX = 1.28;

function Panel({ p }: { p: PanelSpec }) {
  const x = d3.scaleLinear().domain([0, 6]).range([p.left, p.right]);
  const y = d3.scaleLinear().domain(p.yDomain).range([p.bottom, p.top]);
  const line = d3.line<Pt>().x((d) => x(d[0])).y((d) => y(d[1]));
  const cx = (p.left + p.right) / 2;
  const cy = (p.top + p.bottom) / 2;
  return (
    <g>
      <defs>
        <clipPath id={`clip-${p.id}`}>
          <rect x={p.left} y={p.top} width={p.right - p.left} height={p.bottom - p.top} />
        </clipPath>
      </defs>
      <g clipPath={`url(#clip-${p.id})`}>
        {p.series.map((s, i) => (
          <path key={i} d={line(s.data) || ""} fill="none" stroke={s.color} strokeWidth={1} strokeLinejoin="round" />
        ))}
      </g>
      <rect x={p.left} y={p.top} width={p.right - p.left} height={p.bottom - p.top} fill="none" stroke={AXIS} strokeWidth={0.9} />
      {timeTicks.map((t) => (
        <g key={`xt${t}`}>
          <line x1={x(t)} x2={x(t)} y1={p.bottom} y2={p.bottom - TICK} stroke={AXIS} strokeWidth={0.9} />
          <line x1={x(t)} x2={x(t)} y1={p.top} y2={p.top + TICK} stroke={AXIS} strokeWidth={0.9} />
          <text transform={`translate(${x(t)},${p.bottom + 14.5}) scale(${SX},1)`} textAnchor="middle" fontSize={10} fontFamily={SANS} fill={AXIS}>{t}</text>
        </g>
      ))}
      {p.yTicks.map((v) => (
        <g key={`yt${v}`}>
          <line x1={p.left} x2={p.left + TICK} y1={y(v)} y2={y(v)} stroke={AXIS} strokeWidth={0.9} />
          <line x1={p.right} x2={p.right - TICK} y1={y(v)} y2={y(v)} stroke={AXIS} strokeWidth={0.9} />
          <text transform={`translate(${p.left - 5},${y(v) + 3.5}) scale(${SX},1)`} textAnchor="end" fontSize={10} fontFamily={SANS} fill={AXIS}>{v}</text>
        </g>
      ))}
      <text x={cx} y={p.bottom + 29.5} textAnchor="middle" fontSize={12} fontFamily={SANS} fill={AXIS}>Time (s)</text>
      <text transform={`translate(${p.left - 28},${cy}) rotate(-90)`} textAnchor="middle" fontSize={11} fontFamily={SANS} fill={AXIS}>
        Acc (m/s<tspan dy={-4} fontSize={8}>2</tspan><tspan dy={4}>)</tspan>
      </text>
    </g>
  );
}

export default function App() {
  return (
    <svg width={1023} height={783} viewBox="0 0 1023 783" style={{ position: "absolute", left: 0, top: 0, background: "#fff" }}>
      <rect x={0} y={0} width={1023} height={783} fill="#fff" />
      {panels.map((p) => (
        <Panel key={p.id} p={p} />
      ))}
      {captions.map((c, i) => (
        <text key={i} x={c.x} y={c.y} fontSize={27} fontFamily={SERIF} fill="#000" textLength={c.len} lengthAdjust="spacingAndGlyphs">{c.text}</text>
      ))}
    </svg>
  );
}
